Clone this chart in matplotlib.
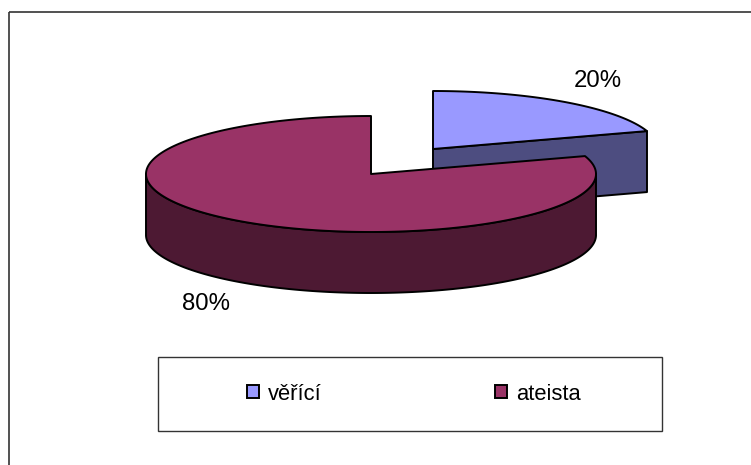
import numpy as np
import matplotlib
matplotlib.use("Agg")
import matplotlib.pyplot as plt
from matplotlib.patches import Polygon, Rectangle, Patch

categories = ["věřící", "ateista"]
shares = [20, 80]
share_labels = ["20%", "80%"]
top_colors = ["#9999FF", "#993366"]
side_colors = ["#4D4D80", "#4D1933"]

RX, RY, DEPTH = 225, 58, 61
centers = [(433, 149), (371, 174)]
label_pos = [(598, 81), (206, 304)]
FS = 17.3
LEG_FS = 15.8
plt.rcParams["font.family"] = ["Liberation Sans", "DejaVu Sans"]

fig = plt.figure(figsize=(7.51, 4.65), dpi=100, facecolor="white")
ax = fig.add_axes([0, 0, 1, 1])
ax.set_xlim(0, 751)
ax.set_ylim(465, 0)
ax.axis("off")


def rim(c, a0, a1, drop=0):
    """Points on the pie rim; angles in degrees clockwise from 12 o'clock."""
    t = np.radians(np.linspace(a0, a1, max(int(abs(a1 - a0)) * 2, 2)))
    return np.column_stack([c[0] + RX * np.sin(t), c[1] - RY * np.cos(t) + drop])


# chart frame: only the top and left edges are visible
ax.plot([9, 9], [465, 12], color="#333333", lw=1.2, solid_capstyle="butt")
ax.plot([9, 751], [12, 12], color="#333333", lw=1.2, solid_capstyle="butt")

edges = np.cumsum([0] + shares) * 360 / sum(shares)
kw = dict(edgecolor="black", lw=1.4, joinstyle="round")

# slice 1 (exploded): cut wall, then top
c = centers[0]
a0, a1 = edges[0], edges[1]
p = rim(c, a1, a1)[0]
ax.add_patch(Polygon([c, p, (p[0], p[1] + DEPTH), (c[0], c[1] + DEPTH)],
                     facecolor=side_colors[0], zorder=2, **kw))
ax.add_patch(Polygon(np.vstack([[c], rim(c, a0, a1)]),
                     facecolor=top_colors[0], zorder=3, **kw))

# slice 2: front wall, then top
c = centers[1]
a0, a1 = edges[1], edges[2]
lo, hi = max(a0, 90), min(a1, 270)
ax.add_patch(Polygon(np.vstack([rim(c, lo, hi), rim(c, hi, lo, DEPTH)]),
                     facecolor=side_colors[1], zorder=4, **kw))
ax.add_patch(Polygon(np.vstack([[c], rim(c, a0, a1)]),
                     facecolor=top_colors[1], zorder=5, **kw))

for txt, (x, y) in zip(share_labels, label_pos):
    ax.text(x, y, txt, ha="center", va="center", fontsize=FS, color="black", zorder=6)

# legend
ax.add_patch(Rectangle((158, 357), 504, 74, facecolor="white",
                       edgecolor="#333333", lw=1.0, zorder=1))
handles = [Patch(facecolor=f, edgecolor="black", lw=1.4) for f in top_colors]
leg = ax.legend(handles, categories, ncol=2, loc="center",
                bbox_to_anchor=(414, 394), bbox_transform=ax.transData,
                frameon=False, fontsize=LEG_FS, handlelength=0.55, handleheight=0.55,
                handletextpad=0.4, columnspacing=7.9, borderpad=0)
fig.savefig("out.png", dpi=100)
